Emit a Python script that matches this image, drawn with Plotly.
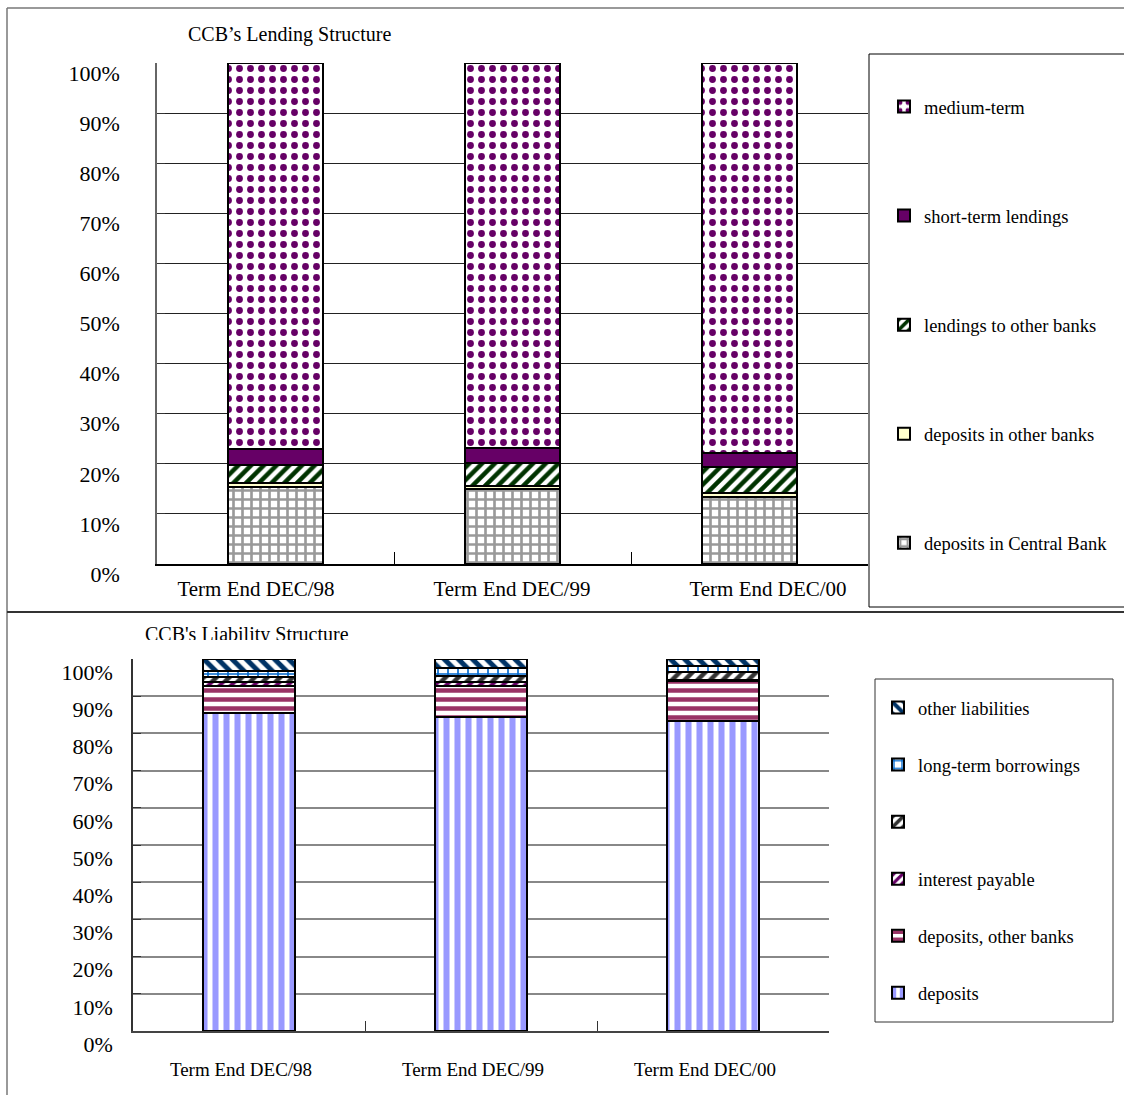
import plotly.graph_objects as go

W, H = 1124, 1095

# ---------------- data ----------------
periods = ["Term End DEC/98", "Term End DEC/99", "Term End DEC/00"]

# Lending structure (%), bottom to top
lend_central_bank = [15.4, 14.9, 13.4]
lend_other_deposits = [0.7, 0.7, 0.7]
lend_to_other_banks = [3.6, 4.5, 5.2]
lend_short_term = [3.2, 3.1, 2.9]
lend_medium_term = [77.1, 76.8, 77.8]

# Liability structure (%), bottom to top
liab_deposits = [85.5, 84.4, 83.3]
liab_dep_other_banks = [7.3, 8.3, 10.8]
liab_interest = [0.9, 1.0, 0.3]
liab_unnamed = [1.5, 1.7, 2.0]
liab_long_term = [1.6, 2.1, 1.6]
liab_other = [3.2, 2.5, 2.0]

pct_ticks = list(range(0, 101, 10))
pct_text = [f"{v}%" for v in pct_ticks]

FONT = "Liberation Serif"


def px(x):
    return x / W


def py(y):
    return 1 - y / H


fig = go.Figure()


def add_bar(name, vals, xa, ya, legend, group, rank, color, shape="", fg=None, size=8, sol=0.4, width=0.405):
    pat = dict(shape=shape)
    if shape:
        pat.update(fgcolor=fg, bgcolor="white", size=size, solidity=sol, fillmode="replace")
    fig.add_trace(go.Bar(
        x=periods, y=vals, name=name,
        xaxis=xa, yaxis=ya, legend=legend, legendgroup=group, legendrank=rank,
        width=width,
        marker=dict(color=color, line=dict(color="black", width=2), pattern=pat),
        hoverinfo="skip",
    ))


# top chart
add_bar("deposits in Central Bank", lend_central_bank, "x", "y", "legend", "a1", 5, "white", "+", "#999999", 9, 0.5)
add_bar("deposits in other banks", lend_other_deposits, "x", "y", "legend", "a2", 4, "#FFFFCC")
add_bar("lendings to other banks", lend_to_other_banks, "x", "y", "legend", "a3", 3, "white", "/", "#003300", 9, 0.5)
add_bar("short-term lendings", lend_short_term, "x", "y", "legend", "a4", 2, "#660066")
add_bar("medium-term", lend_medium_term, "x", "y", "legend", "a5", 1, "white", ".", "#660066", 11, 0.3)

# bottom chart
bw = 0.4
add_bar("deposits", liab_deposits, "x2", "y2", "legend2", "b1", 6, "white", "|", "#9999FF", 11, 0.55, bw)
add_bar("deposits, other banks", liab_dep_other_banks, "x2", "y2", "legend2", "b2", 5, "white", "-", "#993366", 9, 0.5, bw)
add_bar("interest payable", liab_interest, "x2", "y2", "legend2", "b3", 4, "white", "/", "#660066", 8, 0.5, bw)
add_bar(" ", liab_unnamed, "x2", "y2", "legend2", "b4", 3, "white", "/", "#333333", 9, 0.5, bw)
add_bar("long-term borrowings", liab_long_term, "x2", "y2", "legend2", "b5", 2, "white", "+", "#0066CC", 10, 0.3, bw)
add_bar("other liabilities", liab_other, "x2", "y2", "legend2", "b6", 1, "white", "\\", "#003366", 10, 0.5, bw)

# invisible trace so the label-only axis pair (x3/y3) is drawn
fig.add_trace(go.Scatter(x=[None], y=[None], xaxis="x3", yaxis="y3", showlegend=False,
                         hoverinfo="skip", mode="markers"))

fig.update_layout(
    width=W, height=H,
    margin=dict(l=0, r=0, t=0, b=0, autoexpand=False),
    paper_bgcolor="white",
    plot_bgcolor="rgba(0,0,0,0)",
    barmode="stack",
    font=dict(family=FONT, color="black"),
    xaxis=dict(
        domain=[px(157), px(868)], anchor="y", type="category",
        categoryorder="array", categoryarray=periods,
        showticklabels=False, ticks="inside", tickson="boundaries", ticklen=12,
        tickcolor="black", showline=True, linecolor="black", linewidth=1.5,
        showgrid=False, zeroline=False,
    ),
    yaxis=dict(
        domain=[py(564), py(63)], anchor="x", range=[0, 100],
        tickmode="array", tickvals=pct_ticks, ticktext=pct_text,
        tickfont=dict(size=22), ticks="inside", ticklen=8, tickcolor="#333",
        ticklabelshift=10, ticklabelstandoff=31,
        showline=True, linecolor="#666", linewidth=1.5,
        showgrid=True, gridcolor="#222", gridwidth=1, zeroline=False,
    ),
    # label-only axis for the top chart's category labels
    xaxis3=dict(
        domain=[px(128), px(896)], anchor="y3", range=[-0.5, 2.5],
        tickmode="array", tickvals=[0, 1, 2], ticktext=periods,
        tickfont=dict(size=21), ticks="", showline=False, showgrid=False,
        zeroline=False, ticklabelstandoff=10,
    ),
    yaxis3=dict(domain=[py(564), py(63)], anchor="x3", range=[0, 100],
                showticklabels=False, showline=False, showgrid=False, zeroline=False, ticks=""),
    xaxis2=dict(
        domain=[px(133), px(829)], anchor="y2", type="category",
        categoryorder="array", categoryarray=periods,
        tickfont=dict(size=19), ticks="inside", tickson="boundaries", ticklen=10,
        tickcolor="#333", ticklabelshift=-8, ticklabelstandoff=20,
        showline=True, linecolor="#444", linewidth=1.5,
        showgrid=False, zeroline=False,
    ),
    yaxis2=dict(
        domain=[py(1031), py(659)], anchor="x2", range=[0, 100],
        tickmode="array", tickvals=pct_ticks, ticktext=pct_text,
        tickfont=dict(size=22), ticks="inside", ticklen=8, tickcolor="#333",
        ticklabelshift=13, ticklabelstandoff=14,
        showline=True, linecolor="#333", linewidth=1.5,
        showgrid=True, gridcolor="#888", gridwidth=1.5, zeroline=False,
    ),
    legend=dict(
        x=px(884), y=py(88), xanchor="left", yanchor="top",
        bgcolor="rgba(0,0,0,0)", borderwidth=0,
        font=dict(size=18.5, family=FONT),
        traceorder="grouped", tracegroupgap=82,
    ),
    legend2=dict(
        x=px(878), y=py(689), xanchor="left", yanchor="top",
        bgcolor="rgba(0,0,0,0)", borderwidth=0,
        font=dict(size=18.5, family=FONT),
        traceorder="grouped", tracegroupgap=30,
    ),
    annotations=[
        dict(text="CCB’s Lending Structure", x=px(186), y=py(34), xref="paper", yref="paper",
             xanchor="left", yanchor="middle", showarrow=False, font=dict(size=20)),
        dict(text="CCB's Liability Structure", x=px(143), y=py(621), xref="paper", yref="paper",
             xanchor="left", yanchor="top", valign="top", height=17, showarrow=False,
             font=dict(size=20)),
    ],
    shapes=[
        dict(type="line", xref="paper", yref="paper", x0=px(7), x1=px(1130), y0=py(8), y1=py(8),
             line=dict(color="#777", width=1.5)),
        dict(type="line", xref="paper", yref="paper", x0=px(7), x1=px(7), y0=py(8), y1=py(1100),
             line=dict(color="#777", width=1.5)),
        dict(type="line", xref="paper", yref="paper", x0=px(7), x1=px(1130), y0=py(612), y1=py(612),
             line=dict(color="#333", width=2)),
        dict(type="rect", xref="paper", yref="paper", x0=px(869), x1=px(1135), y0=py(607), y1=py(54),
             line=dict(color="black", width=1)),
        dict(type="rect", xref="paper", yref="paper", x0=px(875), x1=px(1113), y0=py(1022), y1=py(679),
             line=dict(color="#333", width=1)),
    ],
)

fig.write_html("out.html")
